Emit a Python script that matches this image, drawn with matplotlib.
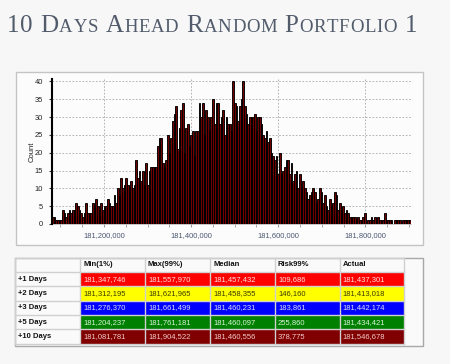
import numpy as np
import matplotlib
matplotlib.use('Agg')
import matplotlib.pyplot as plt
from matplotlib.patches import Rectangle
from matplotlib.ticker import MultipleLocator, FuncFormatter

# histogram counts, left to right
counts_left = [2, 2, 1, 1, 1, 1, 4, 3, 2, 3, 4, 3, 4, 4, 6, 5, 4, 3, 2, 3,
               6, 3, 3, 3, 6, 5, 7, 5, 4, 6, 4, 5, 5, 7, 6, 5, 5, 8, 6, 10,
               8, 13, 10, 11, 13, 11, 10, 12, 10, 11, 18, 13, 15, 12, 15, 11, 17, 11, 15, 16,
               16, 16, 16, 22, 24, 24, 17, 16, 18, 25, 20, 24, 29, 31, 33, 21, 27, 32, 34, 20,
               27, 28, 22, 25, 26, 19, 26, 26, 34, 30, 34, 25, 32, 30, 26, 30, 35, 28, 34, 34]
counts_right = [28, 30, 32, 25, 30, 28, 28, 26, 40, 34, 33, 29, 33, 35, 40, 33, 31, 28, 30, 30,
                30, 31, 26, 30, 30, 28, 25, 24, 26, 23, 24, 20, 19, 18, 19, 14, 20, 14, 15, 16,
                18, 18, 14, 17, 12, 14, 15, 10, 14, 10, 12, 10, 9, 7, 8, 9, 10, 9, 6, 7,
                10, 9, 6, 8, 5, 4, 7, 5, 6, 9, 8, 4, 6, 4, 5, 3, 4, 3, 2, 2,
                2, 2, 1, 2, 1, 1, 2, 3, 0, 1, 1, 2, 1, 2, 1, 2, 1, 1, 1, 3,
                1, 1, 1, 1, 0, 1, 1, 1, 1, 0, 1, 1, 1, 1, 1]
counts = np.array(counts_left + counts_right)
x_min, x_max = 181080600, 181904300

title_words = ["10", "Days", "Ahead", "Random", "Portfolio", "1"]

col_names = ["Min(1%)", "Max(99%)", "Median", "Risk99%", "Actual"]
row_names = ["+1 Days", "+2 Days", "+3 Days", "+5 Days", "+10 Days"]
row_colors = ["#ff0000", "#ffff00", "#0000ff", "#008000", "#800000"]
text_colors = ["#ffe2e2", "#3a3a00", "#dcdcff", "#d8f5d8", "#f2cccc"]
cells = [
    ["181,347,746", "181,557,970", "181,457,432", "109,686", "181,437,301"],
    ["181,312,195", "181,621,965", "181,458,355", "146,160", "181,413,018"],
    ["181,276,370", "181,661,499", "181,460,231", "183,861", "181,442,174"],
    ["181,204,237", "181,761,181", "181,460,097", "255,860", "181,434,421"],
    ["181,081,781", "181,904,522", "181,460,556", "378,775", "181,546,678"],
]

fig = plt.figure(figsize=(4.5, 3.64), dpi=100, facecolor='#f7f7f7')
bg = fig.add_axes([0, 0, 1, 1])
bg.set_xlim(0, 450)
bg.set_ylim(364, 0)
bg.axis('off')

# title in small caps, letter by letter with a little extra spacing
renderer = fig.canvas.get_renderer()
tx = 7
big, small = 18, 13.5
track = 0.7
title_col = '#515b6b'


def text_w(s, size):
    tt = bg.text(0, 0, s, fontsize=size, family='Liberation Serif', alpha=0)
    w = tt.get_window_extent(renderer).width
    tt.remove()
    return w


for word in title_words:
    if word[0].isalpha():
        letters = [(word[0], big)] + [(c, small) for c in word[1:].upper()]
    else:
        letters = [(c, big) for c in word]
    for c, size in letters:
        bg.text(tx, 32.5, c, fontsize=size, family='Liberation Serif',
                color=title_col, va='baseline', ha='left')
        tx += text_w(c, size) + track
    tx += text_w('x x', big) - text_w('xx', big) + track

# chart panel
bg.add_patch(Rectangle((15.5, 71.5), 407.5, 173.5, facecolor='#fcfcfc',
                       edgecolor='#c4c4c4', lw=1))
bg.text(32.5, 152, 'Count', rotation=90, ha='center', va='center',
        fontsize=5.5, family='Liberation Sans', color='#222222')

# table
col_x = [15, 80, 145, 210, 275, 339.5, 404]
row_y = [258, 272, 286.3, 300.6, 315, 329.3, 344]
bg.add_patch(Rectangle((15, 258), 408, 87.5, facecolor='#fafafa',
                       edgecolor='#a8a8a8', lw=1, zorder=1))
for i in range(len(row_names)):
    y0, y1 = row_y[i + 1], row_y[i + 2]
    for j in range(len(col_names)):
        x0, x1 = col_x[j + 1], col_x[j + 2]
        bg.add_patch(Rectangle((x0, y0), x1 - x0, y1 - y0, facecolor=row_colors[i],
                               edgecolor='none', zorder=2))
        bg.text(x0 + 3, (y0 + y1) / 2, cells[i][j], fontsize=5.5, family='Liberation Sans',
                color=text_colors[i], va='center', ha='left', zorder=4)
    bg.text(col_x[0] + 3, (y0 + y1) / 2, row_names[i], fontsize=5.5, family='Liberation Sans',
            weight='bold', color='#111111', va='center', ha='left', zorder=4)
for j, name in enumerate(col_names):
    bg.text(col_x[j + 1] + 3, (row_y[0] + row_y[1]) / 2, name, fontsize=5.5,
            family='Liberation Sans', weight='bold', color='#111111', va='center',
            ha='left', zorder=4)
for xv in col_x:
    bg.plot([xv, xv], [row_y[0], row_y[-1]], color='#d0d0d0', lw=1, zorder=3)
for yv in row_y:
    bg.plot([col_x[0], col_x[-1]], [yv, yv], color='#d0d0d0', lw=1, zorder=3)

# histogram
ax = fig.add_axes([52 / 450, 1 - 224 / 364, 358.7 / 450, 145 / 364])
ax.set_facecolor('#fcfcfc')
edges = np.linspace(x_min, x_max, len(counts) + 1)
ax.bar(edges[:-1], counts, width=np.diff(edges), align='edge',
       color='#6e0000', edgecolor='black', linewidth=0.65, zorder=3)
ax.set_xlim(x_min, x_max)
ax.set_ylim(0, 40.7)
ax.xaxis.set_major_locator(MultipleLocator(200000))
ax.xaxis.set_minor_locator(MultipleLocator(50000))
ax.yaxis.set_major_locator(MultipleLocator(5))
ax.xaxis.set_major_formatter(FuncFormatter(lambda v, p: f"{v:,.0f}"))
ax.grid(True, which='major', color='#a8a8a8', linestyle=(0, (2, 2)), lw=0.6, zorder=1)
for s in ['top', 'right']:
    ax.spines[s].set_visible(False)
ax.spines['bottom'].set_color('#b0b0b0')
ax.spines['bottom'].set_linewidth(0.5)
ax.spines['left'].set_color('black')
ax.spines['left'].set_linewidth(1.5)
ax.spines['left'].set_zorder(5)
ax.tick_params(axis='x', which='both', length=2, color='#999999', labelsize=5.4,
               labelcolor='#4a5670', pad=4)
ax.tick_params(axis='y', length=2.5, color='#333333', labelsize=5.4,
               labelcolor='#222222', pad=4)
for lab in ax.get_xticklabels() + ax.get_yticklabels():
    lab.set_family('Liberation Sans')

fig.savefig('out.png', dpi=100, facecolor=fig.get_facecolor())
